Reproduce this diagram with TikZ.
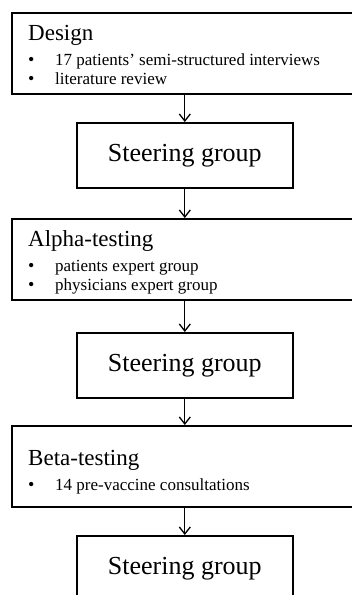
\documentclass[tikz,border=0pt]{standalone}
\usepackage{fontspec}
\setmainfont{Liberation Serif}
\usetikzlibrary{arrows.meta}

\tikzset{
  stage/.style={draw, line width=1.6pt, anchor=north west, minimum width=354pt, minimum height=81pt, inner sep=0pt},
  steer/.style={draw, line width=1.6pt, anchor=north west, minimum width=216pt, minimum height=65pt, inner sep=0pt, font=\fontsize{26}{30}\selectfont},
  stagename/.style={anchor=base west, inner sep=0pt, font=\fontsize{23}{27}\selectfont},
  item/.style={anchor=base west, inner sep=0pt, font=\fontsize{17}{20}\selectfont},
  dot/.style={anchor=base west, inner sep=0pt, font=\fontsize{18}{20}\selectfont},
  flow/.style={line width=1.3pt, -{Straight Barb[length=7pt,width=11pt,line width=1.3pt]}}
}

\begin{document}
\begin{tikzpicture}[x=1pt, y=-1pt]
    \useasboundingbox (0,0) rectangle (352,595);
    \clip (0,0) rectangle (352,595);
    % stages
    \node[stage] (design) at (11,12) {};
    \node[stage] (alpha) at (11,218) {};
    \node[stage] (beta) at (11,425) {};
    \node[stagename] (designname) at (28,40) {Design};
    \node[dot] at (28,65) {\textbullet};
    \node[item] (d1) at (55,65) {17 patients’ semi-structured interviews};
    \node[dot] at (28,84) {\textbullet};
    \node[item] (d2) at (55,84) {literature review};
    \node[stagename] (alphaname) at (28,246) {Alpha-testing};
    \node[dot] at (28,271) {\textbullet};
    \node[item] (a1) at (55,271) {patients expert group};
    \node[dot] at (28,290) {\textbullet};
    \node[item] (a2) at (55,290) {physicians expert group};
    \node[stagename] (betaname) at (28,465) {Beta-testing};
    \node[dot] at (28,490) {\textbullet};
    \node[item] (b1) at (55,490) {14 pre-vaccine consultations};
    % steering group boxes
    \foreach \i/\y in {1/122,2/332,3/535}{
      \node[steer] (sg\i) at (76,\y) {Steering group};
    };
    % arrows
    \draw[flow] (sg1.north |- design.south) -- (sg1.north);
    \draw[flow] (sg1.south) -- (sg1.south |- alpha.north);
    \draw[flow] (sg2.north |- alpha.south) -- (sg2.north);
    \draw[flow] (sg2.south) -- (sg2.south |- beta.north);
    \draw[flow] (sg3.north |- beta.south) -- (sg3.north);
  \end{tikzpicture}
\end{document}
